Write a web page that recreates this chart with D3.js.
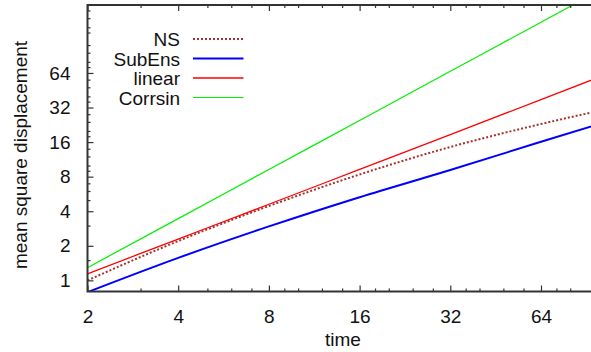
<!DOCTYPE html>
<html>
<head>
<meta charset="utf-8">
<script src="https://cdn.jsdelivr.net/npm/d3@7"></script>
<style>
  html, body { margin: 0; padding: 0; background: #fff; }
  svg { display: block; font-family: "Liberation Sans", Arial, Helvetica, sans-serif; }
</style>
</head>
<body>
<svg id="chart" width="591" height="352"></svg>
<script>
// Sample times and mean square displacement for each model
const times   = [2, 4, 8, 16, 32, 64, 100];
const ns      = [1.0, 2.2, 4.44, 8.36, 14.5, 23.0, 30.0];
const subEns  = [0.79, 1.57, 2.95, 5.3, 9.15, 16.1, 23.0];
const linear  = [1.14, 2.29, 4.6, 9.25, 18.6, 37.5, 59.0];
const corrsin = [1.29, 3.45, 9.24, 24.7, 66.2, 177, 334];

const seriesNames = ["NS", "SubEns", "linear", "Corrsin"];

// Axis ticks (log base 2)
const xMajor = [2, 4, 8, 16, 32, 64];
const xMinor = [3, 5, 6, 7, 9, 10, 12, 14, 18, 20, 24, 28, 36, 40, 48, 56, 72, 80];
const yMajor = [1, 2, 4, 8, 16, 32, 64];
const yMinor = [1.5, 3, 5, 6, 7, 9, 10, 12, 14, 18, 20, 24, 28, 36, 40, 48, 56, 72, 80, 96, 112, 144, 160, 192, 224];

const svg = d3.select("#chart");
const plotLeft = 87.5, plotTop = 5, plotBottom = 291.5;
const pxPerOctave = 90.7;

const x = d3.scaleLog().base(2).domain([2, 100])
  .range([plotLeft, plotLeft + pxPerOctave * Math.log2(100 / 2)]);
const y = d3.scaleLog().base(2).domain([0.8, 250]).range([plotBottom, plotTop]);

const styles = [
  { color: "#a8302c", width: 2,   dash: "2,2" },
  { color: "#0000ff", width: 2,   dash: null },
  { color: "#ff0000", width: 1.3, dash: null },
  { color: "#00f000", width: 1.2, dash: null }
];
const values = [ns, subEns, linear, corrsin];

svg.append("defs").append("clipPath").attr("id", "plotClip")
  .append("rect")
  .attr("x", plotLeft).attr("y", plotTop)
  .attr("width", x.range()[1] - plotLeft).attr("height", plotBottom - plotTop);

const line = d3.line()
  .x(d => x(d[0]))
  .y(d => y(d[1]))
  .curve(d3.curveMonotoneX);

const plot = svg.append("g").attr("clip-path", "url(#plotClip)");
values.forEach((vals, i) => {
  const pts = times.map((t, k) => [t, vals[k]]);
  const s = styles[i];
  plot.append("path")
    .datum(pts)
    .attr("d", line)
    .attr("fill", "none")
    .attr("stroke", s.color)
    .attr("stroke-width", s.width)
    .attr("stroke-dasharray", s.dash);
});

// Axes: ticks pointing into the plot area
const axisColor = "#333";
const fontSize = 19;

function styleAxis(g) {
  g.select(".domain").remove();
  g.selectAll(".tick line").attr("stroke", axisColor).attr("stroke-width", 1.2);
  g.selectAll("text").attr("fill", "#111").attr("font-size", fontSize)
    .attr("font-family", "Liberation Sans, Arial, sans-serif");
}

// bottom
svg.append("g").attr("transform", `translate(0,${plotBottom})`)
  .call(d3.axisBottom(x).tickValues(xMajor).tickFormat(d3.format("d"))
    .tickSizeInner(-6).tickSizeOuter(0).tickPadding(18))
  .call(styleAxis);
svg.append("g").attr("transform", `translate(0,${plotBottom})`)
  .call(d3.axisBottom(x).tickValues(xMinor).tickFormat("").tickSizeInner(-3).tickSizeOuter(0))
  .call(styleAxis);

// top
svg.append("g").attr("transform", `translate(0,${plotTop})`)
  .call(d3.axisTop(x).tickValues(xMajor).tickFormat("").tickSizeInner(-6).tickSizeOuter(0))
  .call(styleAxis);
svg.append("g").attr("transform", `translate(0,${plotTop})`)
  .call(d3.axisTop(x).tickValues(xMinor).tickFormat("").tickSizeInner(-3).tickSizeOuter(0))
  .call(styleAxis);

// left
svg.append("g").attr("transform", `translate(${plotLeft},0)`)
  .call(d3.axisLeft(y).tickValues(yMajor).tickFormat(d3.format("d"))
    .tickSizeInner(-6).tickSizeOuter(0).tickPadding(17))
  .call(styleAxis);
svg.append("g").attr("transform", `translate(${plotLeft},0)`)
  .call(d3.axisLeft(y).tickValues(yMinor).tickFormat("").tickSizeInner(-3).tickSizeOuter(0))
  .call(styleAxis);

// frame lines (top, left, bottom)
const xr = x.range()[1];
svg.append("path")
  .attr("d", `M${xr},${plotTop}H${plotLeft}V${plotBottom}H${xr}`)
  .attr("fill", "none").attr("stroke", axisColor).attr("stroke-width", 2);

// axis titles
svg.append("text")
  .attr("x", 343).attr("y", 346)
  .attr("text-anchor", "middle")
  .attr("font-size", fontSize).attr("fill", "#111")
  .text("time");
svg.append("text")
  .attr("transform", "translate(27,155) rotate(-90)")
  .attr("text-anchor", "middle")
  .attr("font-size", fontSize).attr("fill", "#111")
  .text("mean square displacement");

// legend
const legend = svg.append("g");
seriesNames.forEach((name, i) => {
  const cy = 39 + i * 19.5;
  legend.append("text")
    .attr("x", 180).attr("y", cy + 7)
    .attr("text-anchor", "end")
    .attr("font-size", fontSize).attr("fill", "#111")
    .text(name);
  const s = styles[i];
  legend.append("line")
    .attr("x1", 193).attr("x2", 243.5)
    .attr("y1", cy).attr("y2", cy)
    .attr("stroke", s.color)
    .attr("stroke-width", s.width)
    .attr("stroke-dasharray", s.dash);
});
</script>
</body>
</html>
